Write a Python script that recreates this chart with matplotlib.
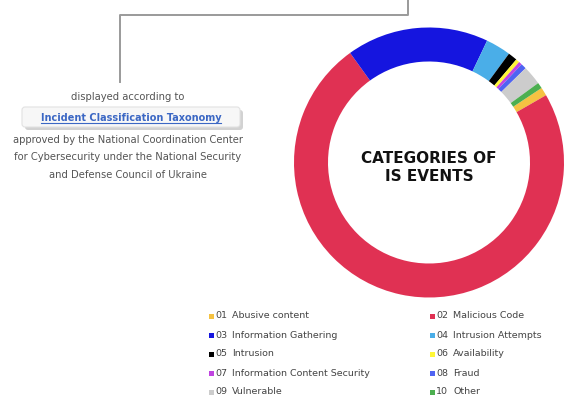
import matplotlib
matplotlib.use("Agg")
import matplotlib.pyplot as plt
from matplotlib.patches import FancyBboxPatch, Rectangle
from matplotlib.lines import Line2D

codes = ["01", "02", "03", "04", "05", "06", "07", "08", "09", "10"]
categories = ["Abusive content", "Malicious Code", "Information Gathering",
              "Intrusion Attempts", "Intrusion", "Availability",
              "Information Content Security", "Fraud", "Vulnerable", "Other"]
shares = [1.0, 73.3, 17.0, 3.0, 1.1, 0.45, 0.4, 0.65, 2.3, 0.7]
colors = ["#F5C242", "#E03153", "#1515DF", "#4AAEE8", "#000000", "#FFF736",
          "#C044E0", "#4F63F2", "#CCCCCC", "#4CAF50"]

W, H = 580, 417
fig = plt.figure(figsize=(W / 100, H / 100), dpi=100)
ax = fig.add_axes([0, 0, 1, 1])

cx, cy, R, ring = 429, 162.5, 135, 34
ax.pie(shares, colors=colors, center=(cx, cy), radius=R,
       startangle=-33.5, counterclock=True,
       wedgeprops=dict(width=ring, edgecolor="none", linewidth=0))
ax.set_xlim(0, W)
ax.set_ylim(H, 0)
ax.set_aspect("auto")
ax.axis("off")

ax.text(cx, cy + 5, "CATEGORIES OF\nIS EVENTS", ha="center", va="center",
        fontsize=11, fontweight="bold", color="#111111", linespacing=1.25)

# connector lines
lc = "#9A9A9A"
ax.add_line(Line2D([120, 120, 408, 408], [82, 15, 15, 0], color=lc, lw=1.4))

tc = "#555555"
ax.text(128, 97, "displayed according to", ha="center", va="center",
        fontsize=7.2, color=tc)

# shadowed box
ax.add_patch(FancyBboxPatch((25, 110), 218, 20, boxstyle="round,pad=0,rounding_size=3",
                            fc="#D2D2D2", ec="none"))
ax.add_patch(FancyBboxPatch((22, 107), 218, 20, boxstyle="round,pad=0,rounding_size=3",
                            fc="#F7F7F7", ec="#E2E2E2", lw=0.8))
link = ax.text(131, 117.5, "Incident Classification Taxonomy", ha="center", va="center",
               fontsize=7.0, fontweight="bold", color="#3B67C4")

for i, line in enumerate(["approved by the National Coordination Center",
                          "for Cybersecurity under the National Security",
                          "and Defense Council of Ukraine"]):
    ax.text(128, 140 + i * 17.5, line, ha="center", va="center", fontsize=7.2, color=tc)

# legend
row_y = [316, 335, 354, 373, 392]
col_x = [211, 432]
for i, (c, name, col) in enumerate(zip(codes, categories, colors)):
    x = col_x[i % 2]
    y = row_y[i // 2]
    ax.add_patch(Rectangle((x - 2.5, y - 2.5), 5, 5, fc=col, ec="none"))
    ax.text(x + 4, y, c, ha="left", va="center", fontsize=6.8, color="#444444")
    ax.text(x + 21, y, name, ha="left", va="center", fontsize=6.8, color="#444444")

# underline for the link text
fig.canvas.draw()
bb = link.get_window_extent()
inv = ax.transData.inverted()
(x0, y0), (x1, y1) = inv.transform([(bb.x0, bb.y0), (bb.x1, bb.y1)])
ax.add_line(Line2D([x0, x1], [y0 + 0.5, y0 + 0.5], color="#3B67C4", lw=0.8))

fig.savefig("out.png", dpi=100)
